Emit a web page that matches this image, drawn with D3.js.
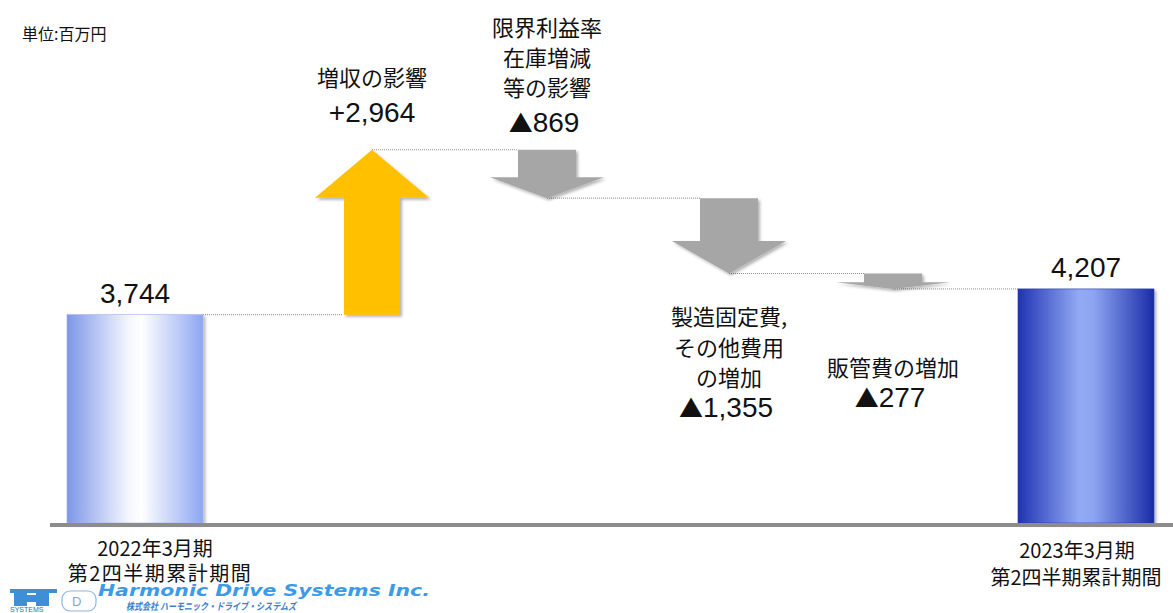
<!DOCTYPE html>
<html>
<head>
<meta charset="utf-8">
<script src="https://cdn.jsdelivr.net/npm/d3@7"></script>
<style>
  html, body { margin: 0; padding: 0; background: #fff; }
  svg { display: block; font-family: "Noto Sans CJK JP", "Noto Sans", sans-serif; }
</style>
</head>
<body>
<svg id="svg" width="1173" height="613"></svg>
<script>
// ----- data -----
const steps = ["start", "sales", "margin", "fixed", "sga", "end"];
const deltas = [3744, 2964, -869, -1355, -277, 4207];
const valueLabels = ["3,744", "+2,964", "▲869", "▲1,355", "▲277", "4,207"];
const stepTitles = [[], ["増収の影響"], ["限界利益率", "在庫増減", "等の影響"], ["製造固定費,", "その他費用", "の増加"], ["販管費の増加"], []];
const periodLabels = [["2022年3月期", "第2四半期累計期間"], ["2023年3月期", "第2四半期累計期間"]];
const unitLabel = "単位:百万円";

const svg = d3.select("#svg");
const W = 1173, H = 613;
const baseY = 523;

const y = d3.scaleLinear().domain([0, 9400]).range([baseY, 0]);
const x = d3.scaleOrdinal().domain(steps).range([135, 372, 547, 729, 893, 1086]);

// running totals
let run = 0;
const rows = steps.map((s, i) => {
  const isTotal = (i === 0 || i === steps.length - 1);
  let from, to;
  if (isTotal) { from = 0; to = deltas[i]; run = deltas[i]; }
  else { from = run; to = run + deltas[i]; run = to; }
  return { key: s, i, isTotal, from, to, delta: deltas[i] };
});

const defs = svg.append("defs");
const shadow = defs.append("filter").attr("id", "shadow")
  .attr("x", "-20%").attr("y", "-20%").attr("width", "140%").attr("height", "140%");
shadow.append("feDropShadow").attr("dx", 2).attr("dy", 2)
  .attr("stdDeviation", 1.5).attr("flood-color", "#000").attr("flood-opacity", 0.3);

function grad(id, stops) {
  const g = defs.append("linearGradient").attr("id", id)
    .attr("x1", "0%").attr("x2", "100%").attr("y1", "0%").attr("y2", "0%");
  stops.forEach(([o, c]) => g.append("stop").attr("offset", o).attr("stop-color", c));
}
grad("bar1", [["0%", "#7d97e8"], ["45%", "#f4f6fe"], ["55%", "#ffffff"], ["100%", "#8ea6f2"]]);
grad("bar2", [["0%", "#1f33b4"], ["45%", "#93aaf4"], ["55%", "#8ea6f2"], ["100%", "#1a2ca8"]]);

// ----- connectors (dotted) -----
const barW = 136, bodyW = 58, headW = 114;
const conn = [];
for (let i = 0; i < rows.length - 1; i++) {
  const a = rows[i], b = rows[i + 1];
  const level = a.to;
  const x0 = a.isTotal ? x(a.key) + barW / 2 : x(a.key);
  const x1 = b.isTotal ? x(b.key) - barW / 2 : x(b.key) - bodyW / 2;
  conn.push({ x0, x1, y: y(level) });
}
svg.append("g").selectAll("line").data(conn).enter().append("line")
  .attr("x1", d => d.x0).attr("x2", d => d.x1)
  .attr("y1", d => d.y).attr("y2", d => d.y)
  .attr("stroke", "#8a8a8a").attr("stroke-width", 1)
  .attr("stroke-dasharray", "1,1");

// ----- total bars -----
svg.append("g").selectAll("rect").data(rows.filter(r => r.isTotal)).enter().append("rect")
  .attr("x", d => x(d.key) - barW / 2)
  .attr("width", barW)
  .attr("y", d => y(d.to))
  .attr("height", d => y(0) - y(d.to))
  .attr("fill", (d, i) => `url(#bar${i + 1})`)
  .attr("stroke", (d, i) => i === 0 ? "#9fb1e8" : "#2a3aa8")
  .attr("stroke-width", 0.6)
  .attr("filter", "url(#shadow)");

// ----- arrows -----
function arrowPath(d) {
  const cx = x(d.key);
  const yTop = y(Math.max(d.from, d.to));
  const yBot = y(Math.min(d.from, d.to));
  const h = yBot - yTop;
  if (d.delta > 0) {
    const headH = Math.min(48, h * 0.45);
    return `M${cx},${yTop} L${cx + headW / 2},${yTop + headH} L${cx + bodyW / 2 - 1},${yTop + headH}
      L${cx + bodyW / 2 - 1},${yBot} L${cx - bodyW / 2 + 1},${yBot} L${cx - bodyW / 2 + 1},${yTop + headH}
      L${cx - headW / 2},${yTop + headH} Z`;
  }
  const headH = h * 0.43;
  return `M${cx - bodyW / 2},${yTop} L${cx + bodyW / 2},${yTop} L${cx + bodyW / 2},${yBot - headH}
    L${cx + headW / 2},${yBot - headH} L${cx},${yBot} L${cx - headW / 2},${yBot - headH}
    L${cx - bodyW / 2},${yBot - headH} Z`;
}
svg.append("g").selectAll("path").data(rows.filter(r => !r.isTotal)).enter().append("path")
  .attr("d", arrowPath)
  .attr("fill", d => d.delta > 0 ? "#ffc000" : "#a6a6a6")
  .attr("filter", "url(#shadow)");

// ----- baseline -----
svg.append("rect").attr("x", 50).attr("y", baseY).attr("width", W - 50).attr("height", 4)
  .attr("fill", "#8c8c8c");

// ----- labels -----
const numFont = "'Liberation Sans', Arial, sans-serif";
// value text with a bigger CJK triangle
function valueText(sel, s) {
  if (s.startsWith("▲")) {
    sel.append("tspan").attr("font-family", "'Noto Sans CJK JP', sans-serif")
      .attr("font-size", 24).text("▲");
    sel.append("tspan").text(s.slice(1));
  } else {
    sel.text(s);
  }
}
// totals
svg.selectAll(".totLbl").data(rows.filter(r => r.isTotal)).enter().append("text")
  .attr("class", "totLbl")
  .attr("x", d => x(d.key)).attr("y", d => y(d.to) - 12)
  .attr("text-anchor", "middle").attr("font-family", numFont)
  .attr("font-size", 28).attr("fill", "#111")
  .text(d => valueLabels[d.i]);

// step titles (baseline of first line, line gap, value baseline)
const titleLayout = {
  sales: { y0: 86, gap: 30, valY: 122 },
  margin: { y0: 36, gap: 30, valY: 132 },
  fixed: { y0: 325, gap: 30.5, valY: 417 },
  sga: { y0: 376, gap: 30, valY: 407 }
};
rows.filter(r => !r.isTotal).forEach(r => {
  const L = titleLayout[r.key];
  const t = stepTitles[r.i];
  const g = svg.append("g");
  g.selectAll("text.t").data(t).enter().append("text")
    .attr("x", x(r.key)).attr("y", (d, j) => L.y0 + j * L.gap)
    .attr("text-anchor", "middle").attr("font-size", 22).attr("fill", "#111")
    .text(d => d);
  g.append("text")
    .attr("x", x(r.key) + (r.key === "sales" ? 0 : -3))
    .attr("y", L.valY)
    .attr("text-anchor", "middle").attr("font-family", numFont)
    .attr("font-size", 28).attr("fill", "#111")
    .call(valueText, valueLabels[r.i]);
});

// period labels
const periodX = [[155, 160], [1077, 1076]];
const periodY = [[556, 581], [558, 585]];
const periodSize = [[20, 20], [20, 20]];
rows.filter(r => r.isTotal).forEach((r, k) => {
  svg.append("g").selectAll("text").data(periodLabels[k]).enter().append("text")
    .attr("x", (d, j) => periodX[k][j])
    .attr("y", (d, j) => periodY[k][j])
    .attr("text-anchor", "middle").attr("font-size", (d, j) => periodSize[k][j]).attr("fill", "#111")
    .attr("letter-spacing", (d, j) => (k === 0 && j === 1) ? 1.5 : 0)
    .text(d => d);
});

// unit
svg.append("text").attr("x", 22).attr("y", 40).attr("font-size", 16).attr("fill", "#111")
  .text(unitLabel);

// ----- logo (rough) -----
const logo = svg.append("g");
const lc = "#3f8fd8";
logo.append("rect").attr("x", 14).attr("y", 589).attr("width", 13).attr("height", 17).attr("fill", lc);
logo.append("rect").attr("x", 36).attr("y", 589).attr("width", 13).attr("height", 17).attr("fill", lc);
logo.append("rect").attr("x", 14).attr("y", 595).attr("width", 35).attr("height", 7).attr("fill", lc);
logo.append("rect").attr("x", 10).attr("y", 589).attr("width", 47).attr("height", 4).attr("fill", lc);
logo.append("text").attr("x", 10).attr("y", 612).attr("font-size", 7).attr("fill", "#2a6fb8")
  .attr("font-family", numFont).text("SYSTEMS");
logo.append("rect").attr("x", 62).attr("y", 591).attr("width", 34).attr("height", 20).attr("rx", 8)
  .attr("fill", "none").attr("stroke", "#8fb6e0").attr("stroke-width", 1.2);
logo.append("text").attr("x", 72).attr("y", 606).attr("font-size", 13).attr("fill", "#7fa8d8")
  .attr("font-family", numFont).text("D");
logo.append("text").attr("x", 98).attr("y", 596).attr("font-size", 15).attr("font-weight", "bold")
  .attr("font-style", "italic").attr("font-family", "'DejaVu Sans', sans-serif")
  .attr("fill", "#3c9ae6").attr("textLength", 332).attr("lengthAdjust", "spacingAndGlyphs")
  .text("Harmonic Drive Systems Inc.");
logo.append("text").attr("x", 126).attr("y", 610).attr("font-size", 10).attr("font-weight", "bold")
  .attr("font-style", "italic").attr("fill", "#3a82d0")
  .attr("textLength", 170).attr("lengthAdjust", "spacingAndGlyphs")
  .text("株式会社 ハーモニック・ドライブ・システムズ");
</script>
</body>
</html>
